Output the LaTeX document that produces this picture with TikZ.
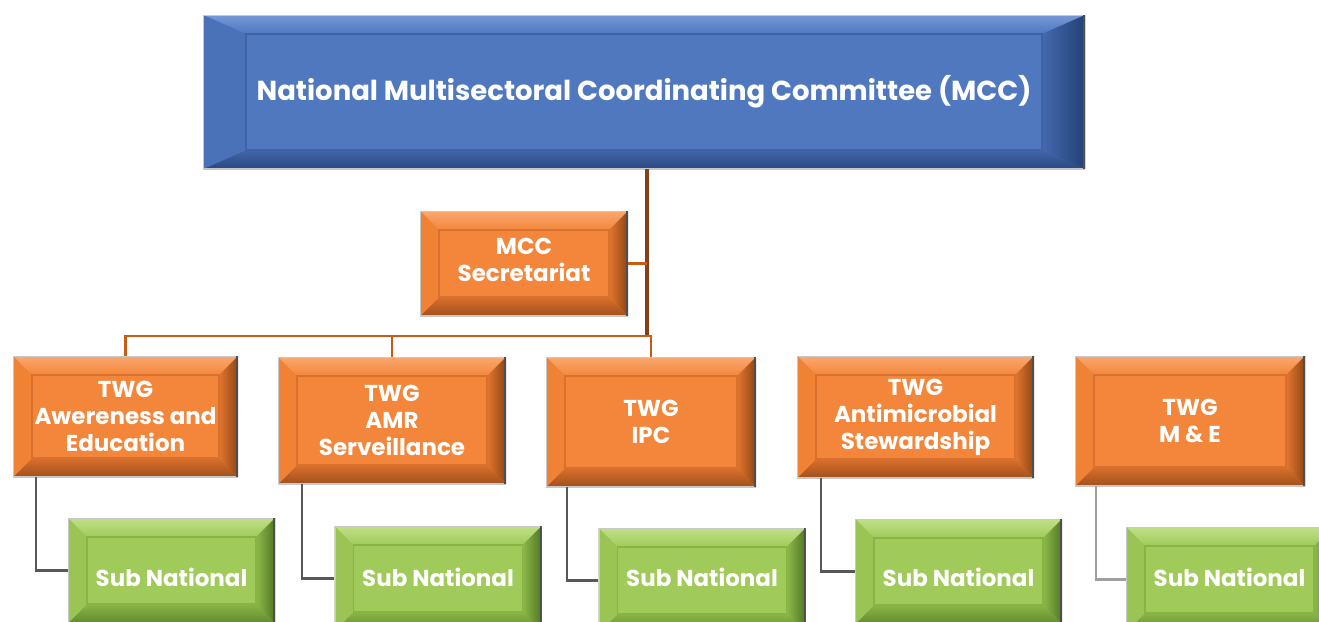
\documentclass[tikz,border=0pt]{standalone}
\usepackage{fontspec}
\setmainfont{Poppins}
\usetikzlibrary{calc}
\definecolor{bMain}{RGB}{79,120,190}
\definecolor{bTop}{RGB}{118,152,214}
\definecolor{bLeft}{RGB}{74,114,184}
\definecolor{bBa}{RGB}{66,102,170}
\definecolor{bBb}{RGB}{42,72,128}
\definecolor{bRa}{RGB}{68,106,174}
\definecolor{bRb}{RGB}{36,64,118}
\definecolor{bIn}{RGB}{62,98,164}
\definecolor{oMain}{RGB}{243,134,58}
\definecolor{oTop}{RGB}{250,168,112}
\definecolor{oLeft}{RGB}{240,130,54}
\definecolor{oBa}{RGB}{218,112,44}
\definecolor{oBb}{RGB}{160,80,28}
\definecolor{oRa}{RGB}{228,118,46}
\definecolor{oRb}{RGB}{140,70,22}
\definecolor{oIn}{RGB}{216,112,46}
\definecolor{gMain}{RGB}{160,202,90}
\definecolor{gTop}{RGB}{192,224,136}
\definecolor{gLeft}{RGB}{154,197,84}
\definecolor{gBa}{RGB}{138,182,70}
\definecolor{gBb}{RGB}{98,138,46}
\definecolor{gRa}{RGB}{142,186,72}
\definecolor{gRb}{RGB}{80,118,38}
\definecolor{gIn}{RGB}{136,180,70}
\definecolor{edgeDark}{RGB}{78,78,78}
\definecolor{edgeLight}{RGB}{200,200,200}
\definecolor{trunkCol}{RGB}{132,64,22}
\definecolor{branchCol}{RGB}{200,92,22}
\definecolor{subCol}{RGB}{88,88,88}
\definecolor{subColLight}{RGB}{160,160,160}
% #1 colour prefix, #2 side bevel width, #3 top/bottom bevel height
\newcommand{\bevelpaint}[3]{%
  \coordinate (bvSW) at (path picture bounding box.south west);
  \coordinate (bvNE) at (path picture bounding box.north east);
  \shade[top color=#1Top, bottom color=#1Main] let \p1=(bvSW), \p2=(bvNE) in
    (\x1,\y2) -- (\x2,\y2) -- (\x2-#2,\y2-#3) -- (\x1+#2,\y2-#3) -- cycle;
  \shade[top color=#1Ba, bottom color=#1Bb] let \p1=(bvSW), \p2=(bvNE) in
    (\x1,\y1) -- (\x2,\y1) -- (\x2-#2,\y1+#3) -- (\x1+#2,\y1+#3) -- cycle;
  \fill[#1Left] let \p1=(bvSW), \p2=(bvNE) in
    (\x1,\y1) -- (\x1,\y2) -- (\x1+#2,\y2-#3) -- (\x1+#2,\y1+#3) -- cycle;
  \shade[left color=#1Ra, right color=#1Rb] let \p1=(bvSW), \p2=(bvNE) in
    (\x2,\y1) -- (\x2,\y2) -- (\x2-#2,\y2-#3) -- (\x2-#2,\y1+#3) -- cycle;
  \draw[#1In, line width=1.2pt] let \p1=(bvSW), \p2=(bvNE) in
    (\x1+#2,\y1+#3) rectangle (\x2-#2,\y2-#3);
  \draw[edgeLight, line width=2.5pt] let \p1=(bvSW), \p2=(bvNE) in
    (\x2,\y1) -- (\x1,\y1) -- (\x1,\y2) -- (\x2,\y2);
  \draw[edgeDark, line width=4pt] let \p1=(bvSW), \p2=(bvNE) in
    (\x2,\y1) -- (\x2,\y2);
}
\begin{document}
\begin{tikzpicture}[x=1pt, y=-1pt,
  box/.style={rectangle, inner sep=0pt, text=white, align=center,
    font=\fontsize{23}{27}\selectfont\bfseries},
  bluebox/.style={box, fill=bMain, path picture={\bevelpaint{b}{43pt}{19pt}}},
  orangebox/.style={box, fill=oMain, path picture={\bevelpaint{o}{19pt}{19pt}}},
  greenbox/.style={box, fill=gMain, minimum width=207, minimum height=105,
    text depth=0pt, path picture={\bevelpaint{g}{19pt}{19pt}}},
  trunk/.style={trunkCol, line width=3.5pt},
  branch/.style={branchCol, line width=2.5pt},
  subline/.style={subCol, line width=2.5pt},
  sublinelight/.style={subColLight, line width=2.5pt}
]
\useasboundingbox (0,0) rectangle (1319,621);
\clip (0,0) rectangle (1319,621);

\coordinate (j) at (647,336);

% boxes
\node[bluebox, minimum width=882, minimum height=154,
  font=\fontsize{27.5}{33}\selectfont\bfseries] (mcc) at (644,92)
  {National Multisectoral Coordinating Committee (MCC)};
\node[orangebox, minimum width=208, minimum height=105] (sec) at (524,263.5)
  {MCC\\Secretariat\rule[-8pt]{0pt}{8pt}};
\node[orangebox, minimum width=225, minimum height=121] (t1) at (125.5,416.5)
  {TWG\\Awereness and\\Education};
\node[orangebox, minimum width=228, minimum height=127] (t2) at (392,420.5)
  {TWG\\AMR\\Serveillance};
\node[orangebox, minimum width=210, minimum height=130] (t3) at (651,422)
  {TWG\\IPC};
\node[orangebox, minimum width=237, minimum height=122] (t4) at (915.5,417)
  {TWG\\Antimicrobial\\Stewardship};
\node[orangebox, minimum width=230, minimum height=130] (t5) at (1190,421)
  {TWG\\M \& E};
\node[greenbox, text height=32pt] (s1) at (171.5,570.5) {Sub National};
\node[greenbox, text height=15pt] (s2) at (438,578.5) {Sub National};
\node[greenbox, text height=11pt] (s3) at (702,580.5) {Sub National};
\node[greenbox, text height=29pt] (s4) at (958.5,571.5) {Sub National};
\node[greenbox, text height=13pt] (s5) at (1229.5,579.5) {Sub National};

% connectors
\draw[trunk] (mcc.south -| j) -- (j);
\draw[branch] (sec.east) -- (sec.east -| j);
\draw[branch] (j) -- (t1.north |- j) -- (t1.north);
\draw[branch] (t2.north |- j) -- (t2.north);
\draw[branch] (j) -- (t3.north |- j) -- (t3.north);
\draw[subline] ([xshift=23pt]t1.south west) |- (s1.west);
\draw[subline] ([xshift=24pt]t2.south west) |- (s2.west);
\draw[subline] ([xshift=21pt]t3.south west) |- (s3.west);
\draw[subline] ([xshift=24pt]t4.south west) |- (s4.west);
\draw[sublinelight] ([xshift=21pt]t5.south west) |- (s5.west);
\end{tikzpicture}
\end{document}
